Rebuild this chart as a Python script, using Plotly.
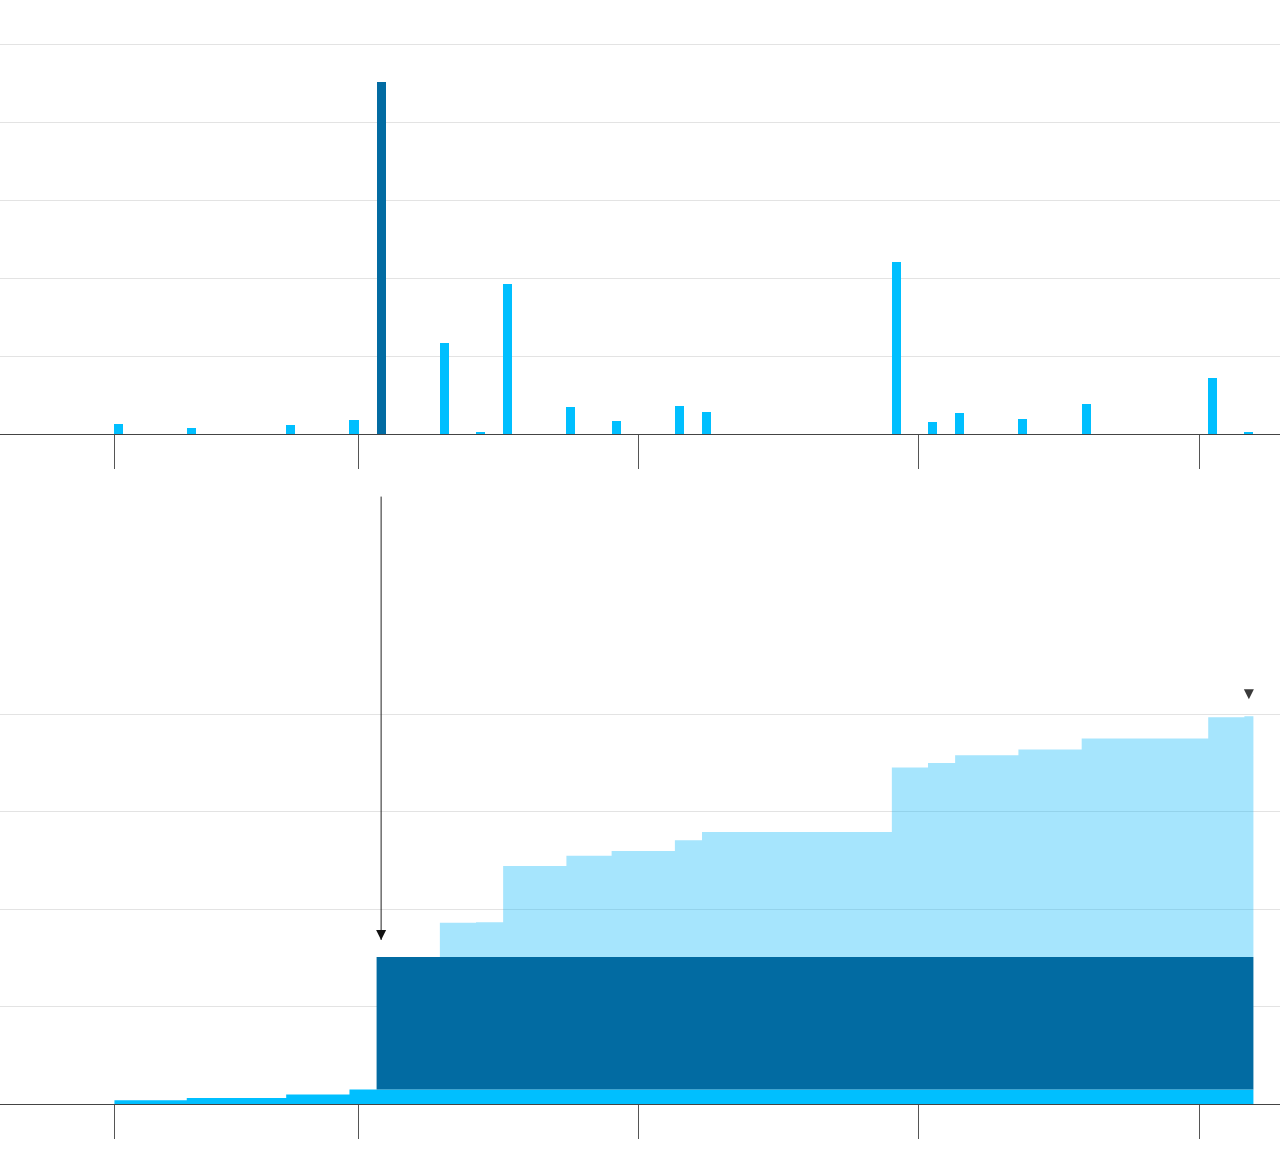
import numpy as np
import plotly.graph_objects as go

# ---- data ----
# bin index (one bin = one unit on the x axis) and value of each bar
bins = [-27, -19, -8, -1, 2, 9, 13, 16, 23, 28, 35, 38, 59, 63, 66, 73, 80, 94, 98]
values = [0.38, 0.24, 0.35, 0.53, 13.58, 3.50, 0.07, 5.76, 1.05, 0.49, 1.09, 0.85,
          6.63, 0.45, 0.81, 0.58, 1.14, 2.17, 0.09]
event_bin = 2                      # the highlighted (dark) bar
tick_positions = [-27, 0, 31, 62, 93]
top_grid = [3, 6, 9, 12, 15]
bottom_grid = [10, 20, 30, 40]

# ---- styles ----
CYAN = "#00bfff"
DARK = "#026ba2"
LIGHT = "rgba(0,180,250,0.35)"
GRID = "#e3e3e3"
AXIS = "#444444"
X_RANGE = [-39.66, 101.94]
TOP_RANGE = [0, 16.72]
BOT_RANGE = [0, 64.0]
ARROW_TOP = 62.3
GAP = 1.75

bins = np.array(bins)
values = np.array(values)
pre = bins < event_bin
post = bins > event_bin
is_event = bins == event_bin

# step layers (cumulative)
edges = list(bins) + [bins.max() + 1]
cum_pre = np.cumsum(np.where(pre, values, 0))
cum_evt = np.cumsum(np.where(is_event, values, 0))
cum_post = np.cumsum(np.where(post, values, 0))
def ext(a):
    return list(a) + [a[-1]]
layer1 = np.array(ext(cum_pre))
layer2 = layer1 + np.array(ext(cum_evt))
layer3 = layer2 + np.array(ext(cum_post))

fig = go.Figure()

# top: bars
colors = [DARK if e else CYAN for e in is_event]
fig.add_trace(go.Bar(x=bins + 0.5, y=values, width=1.0,
                     marker=dict(color=colors, line=dict(width=0)),
                     xaxis="x", yaxis="y", showlegend=False, hoverinfo="skip"))

# bottom: stacked step areas
for ys, col, fill in [(layer1, CYAN, "tozeroy"), (layer2, DARK, "tonexty"), (layer3, LIGHT, "tonexty")]:
    fig.add_trace(go.Scatter(x=edges, y=ys, mode="lines", line=dict(width=0, shape="hv"),
                             fill=fill, fillcolor=col, xaxis="x2", yaxis="y2",
                             showlegend=False, hoverinfo="skip"))

# arrow to the event
evt_x = event_bin + 0.5
evt_top = layer2[list(bins).index(event_bin)]
fig.add_trace(go.Scatter(x=[evt_x, evt_x], y=[ARROW_TOP, evt_top + GAP], mode="lines",
                         line=dict(color="#222222", width=1), xaxis="x2", yaxis="y2",
                         showlegend=False, hoverinfo="skip"))
fig.add_trace(go.Scatter(x=[evt_x], y=[evt_top + GAP], mode="markers",
                         marker=dict(symbol="arrow-down", size=10, color="#111111"),
                         xaxis="x2", yaxis="y2", showlegend=False, hoverinfo="skip"))
# total marker
fig.add_trace(go.Scatter(x=[bins.max() + 0.5], y=[layer3[-1] + GAP], mode="markers",
                         marker=dict(symbol="arrow-down", size=10, color="#3a3a3a"),
                         xaxis="x2", yaxis="y2", showlegend=False, hoverinfo="skip"))

H = 1160
xcommon = dict(range=X_RANGE, showgrid=False, zeroline=False, showline=True,
               linecolor=AXIS, linewidth=1, ticks="outside", ticklen=34,
               tickcolor="#555555", tickwidth=1, tickvals=tick_positions,
               showticklabels=False, fixedrange=True)
ycommon = dict(showgrid=True, gridcolor=GRID, gridwidth=1, zeroline=False,
               showline=False, ticks="", showticklabels=False, fixedrange=True)

fig.update_layout(
    width=1280, height=H,
    margin=dict(l=0, r=0, t=0, b=0),
    paper_bgcolor="white", plot_bgcolor="rgba(0,0,0,0)",
    bargap=0,
    xaxis=dict(**xcommon, anchor="y"),
    yaxis=dict(**ycommon, range=TOP_RANGE, tickvals=top_grid,
               domain=[(H - 434) / H, 1.0], anchor="x"),
    xaxis2=dict(**xcommon, anchor="y2"),
    yaxis2=dict(**ycommon, range=BOT_RANGE, tickvals=bottom_grid,
                domain=[(H - 1104) / H, (H - 480) / H], anchor="x2"),
)

fig.write_html("out.html", config={"displayModeBar": False},
               post_script="document.body.style.margin='0';document.body.style.overflow='hidden';")
